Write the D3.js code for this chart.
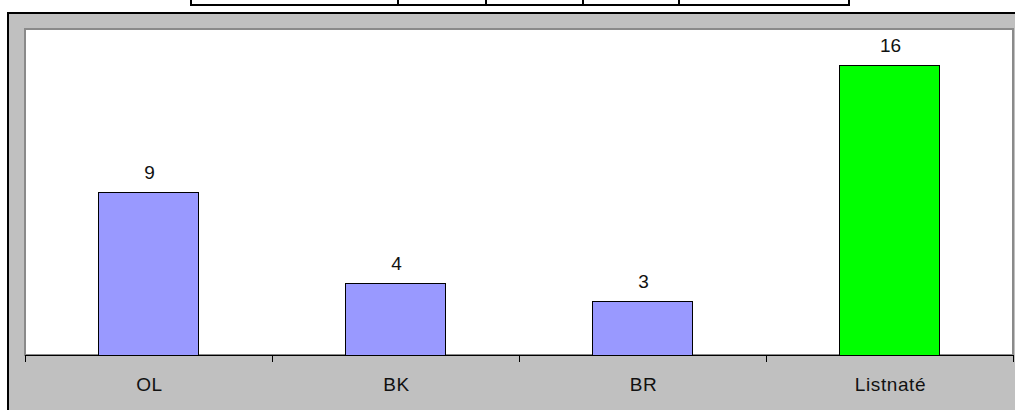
<!DOCTYPE html>
<html>
<head>
<meta charset="utf-8">
<script src="https://cdn.jsdelivr.net/npm/d3@7"></script>
<style>
  html, body { margin: 0; padding: 0; background: #ffffff; }
  svg { display: block; }
  text { font-family: "Liberation Sans", Arial, sans-serif; fill: #111; }
</style>
</head>
<body>
<svg id="chart" width="1015" height="410"></svg>
<script>
// Chart data
const categories = ["OL", "BK", "BR", "Listnaté"];
const values = [9, 4, 3, 16];
const yDomain = [0, 18];
// Column edges of the table strip above the chart
const tableColumns = [191, 398, 486, 583, 679, 849];

const svg = d3.select("#chart");
const W = 1015, H = 410;

// Table strip at the top (cut off by the page edge)
const table = svg.append("g");
table.append("line")
  .attr("x1", tableColumns[0]).attr("x2", tableColumns[tableColumns.length - 1])
  .attr("y1", 5).attr("y2", 5)
  .attr("stroke", "#000").attr("stroke-width", 2);
table.selectAll("line.col").data(tableColumns).join("line")
  .attr("class", "col")
  .attr("x1", d => d).attr("x2", d => d)
  .attr("y1", -2).attr("y2", 6)
  .attr("stroke", "#000").attr("stroke-width", 2);

// Chart frame: grey chart area with black outline
svg.append("rect")
  .attr("x", 8).attr("y", 13)
  .attr("width", W).attr("height", H)
  .attr("fill", "#c0c0c0")
  .attr("stroke", "#000").attr("stroke-width", 2);

// Plot area
const plot = { left: 25, right: 1013, top: 29, bottom: 355 };
svg.append("rect")
  .attr("x", plot.left).attr("y", plot.top)
  .attr("width", plot.right - plot.left).attr("height", plot.bottom - plot.top)
  .attr("fill", "#ffffff")
  .attr("stroke", "#8a8a8a").attr("stroke-width", 2);

const x = d3.scaleBand()
  .domain(categories)
  .range([plot.left, plot.right])
  .paddingInner(0.595)
  .paddingOuter(0.2975);

const y = d3.scaleLinear().domain(yDomain).range([plot.bottom, plot.top]);

const color = d3.scaleOrdinal()
  .domain(categories)
  .range(["#9999ff", "#9999ff", "#9999ff", "#00ff00"]);

const rows = categories.map((c, i) => ({ cat: c, val: values[i] }));

// Bars
svg.append("g").selectAll("rect").data(rows).join("rect")
  .attr("x", d => Math.round(x(d.cat)) + 0.5)
  .attr("y", d => Math.round(y(d.val)) + 0.5)
  .attr("width", Math.round(x.bandwidth()))
  .attr("height", d => Math.round(y(0)) - Math.round(y(d.val)))
  .attr("fill", d => color(d.cat))
  .attr("stroke", "#000").attr("stroke-width", 1);

// Value labels
svg.append("g").selectAll("text").data(rows).join("text")
  .attr("x", d => x(d.cat) + x.bandwidth() / 2 + 1)
  .attr("y", d => y(d.val) - 13)
  .attr("text-anchor", "middle")
  .attr("font-size", 19)
  .text(d => d.val);

// Category axis with ticks between categories
const boundaries = [plot.left].concat(categories.map(c => x(c) - x.step() * x.paddingInner() / 2 + x.step()));
const axis = svg.append("g");
axis.append("line")
  .attr("x1", plot.left).attr("x2", plot.right)
  .attr("y1", plot.bottom + 0.5).attr("y2", plot.bottom + 0.5)
  .attr("stroke", "#000").attr("stroke-width", 1);
axis.selectAll("line.tick").data(boundaries).join("line")
  .attr("class", "tick")
  .attr("x1", d => Math.round(d) + 0.5).attr("x2", d => Math.round(d) + 0.5)
  .attr("y1", plot.bottom).attr("y2", plot.bottom + 7)
  .attr("stroke", "#000").attr("stroke-width", 1);
axis.selectAll("text").data(categories).join("text")
  .attr("x", d => x(d) + x.bandwidth() / 2 + 1)
  .attr("y", 391)
  .attr("text-anchor", "middle")
  .attr("font-size", 19)
  .attr("letter-spacing", 0.6)
  .text(d => d);
</script>
</body>
</html>
